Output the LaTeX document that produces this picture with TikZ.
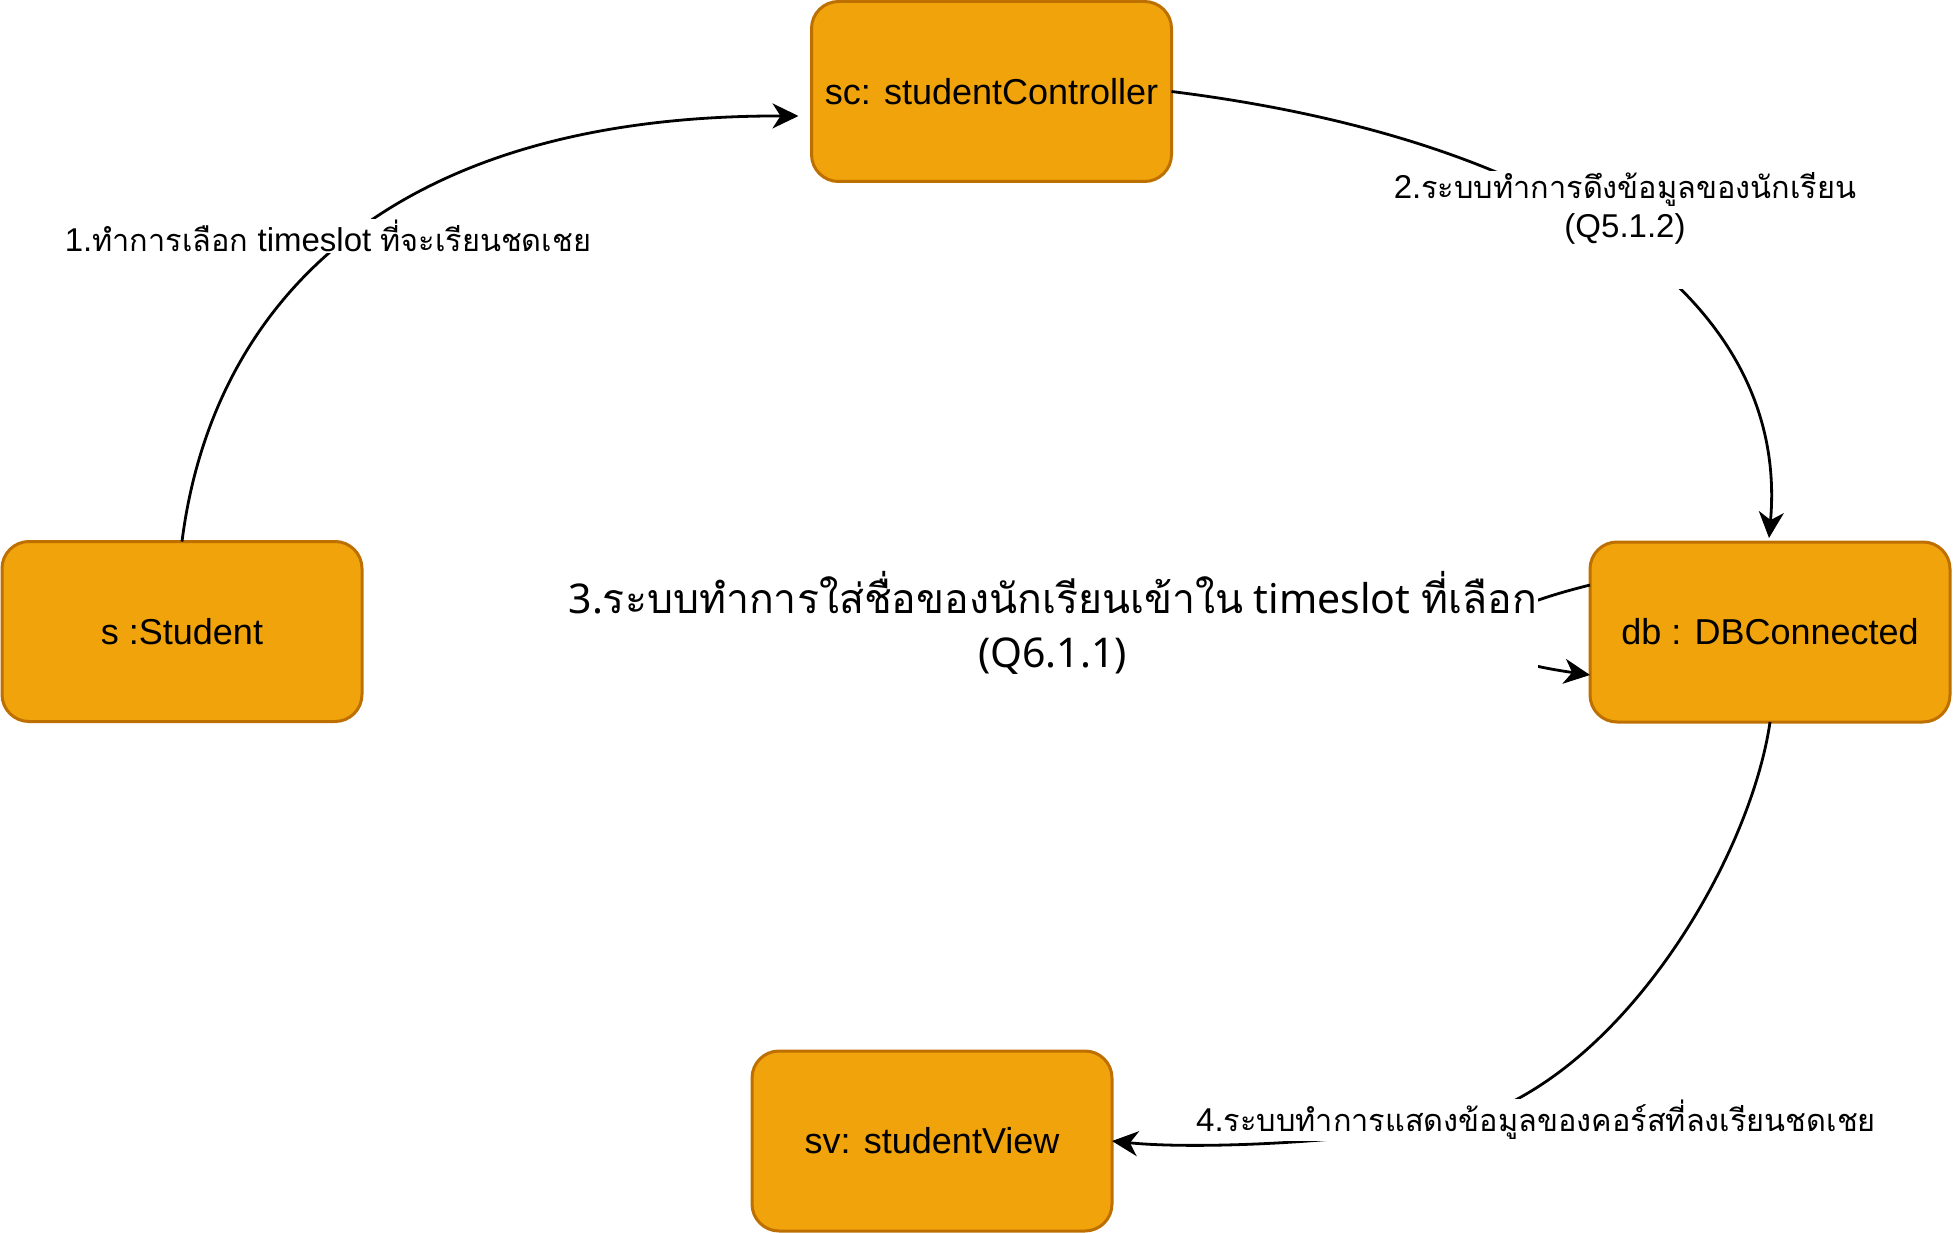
\documentclass[tikz,border=0pt]{standalone}
\usepackage{fontspec}
\setmainfont{Liberation Sans}
\newfontfamily\thai[Script=Thai,Scale=0.93]{Loma}
\newfontfamily\thaibig[Script=Thai]{Loma}
\newfontfamily\notosans{Noto Sans}
\usetikzlibrary{arrows.meta}
\definecolor{objfill}{HTML}{F0A30A}
\definecolor{objborder}{HTML}{BD7000}
\newcommand\nodefont{\fontsize{36}{43}\selectfont}
\newcommand\lblfont{\fontsize{33}{39}\selectfont}
\newcommand\bigfont{\fontsize{41}{54}\selectfont}
\tikzset{
  obj/.style={rectangle, rounded corners=27pt, draw=objborder, fill=objfill,
    line width=3pt, minimum width=360pt, minimum height=180pt,
    outer sep=0pt, inner sep=0pt, font=\nodefont},
  conn/.style={line width=2.8pt, -{Stealth[length=26pt,width=25pt,inset=8pt]}},
  lbl/.style={fill=white, inner sep=1pt, align=center, font=\lblfont},
  biglbl/.style={fill=white, inner sep=1pt, align=center, font=\bigfont},
}
\begin{document}
\begin{tikzpicture}[x=1pt,y=-1pt]
\useasboundingbox (0,0) rectangle (1953,1233);
% objects
\node[obj] (sc) at (991.5,91.5) {sc: studentController};
\node[obj] (s)  at (182,631.5) {s :Student};
\node[obj] (db) at (1770,632) {db : DBConnected};
\node[obj] (sv) at (932,1141) {sv: studentView};
% connector end points
\coordinate (e1) at ([xshift=-13pt,yshift=-24.5pt]sc.west);
\coordinate (e2) at ([xshift=-1pt,yshift=4pt]db.north);
\coordinate (l3a) at ([yshift=47pt]db.west);
\coordinate (l3b) at ([yshift=-43pt]db.west);
% connectors
\draw[conn] (s.north) .. controls (210,320) and (370,115) .. (e1);
\draw[conn] (sc.east) .. controls (1560,140) and (1790,300) .. (e2);
\draw[conn] (l3a) .. controls (1450,620) and (1450,655) .. (l3b);
\draw[conn] (db.south) .. controls (1750,860) and (1620,1080) .. (1460,1122)
   .. controls (1360,1142) and (1200,1150) .. (sv.east);
% labels
\node[lbl] (t1) at (328,236) {1.{\thai ทำการเลือก} timeslot {\thai ที่จะเรียนชดเชย}};
\node[lbl] (t2) at (1625,230) {2.{\thai ระบบทำการดึงข้อมูลของนักเรียน}\\(Q5.1.2)\\\strut};
\node[biglbl, anchor=east] (t3) at (1538,623) {\notosans 3.{\thaibig ระบบทำการใส่ชื่อของนักเรียนเข้าใน} timeslot {\thaibig ที่เลือก}\\\notosans (Q6.1.1)};
\node[lbl] (t4) at (1536,1120) {4.{\thai ระบบทำการแสดงข้อมูลของคอร์สที่ลงเรียนชดเชย}};
\end{tikzpicture}
\end{document}
